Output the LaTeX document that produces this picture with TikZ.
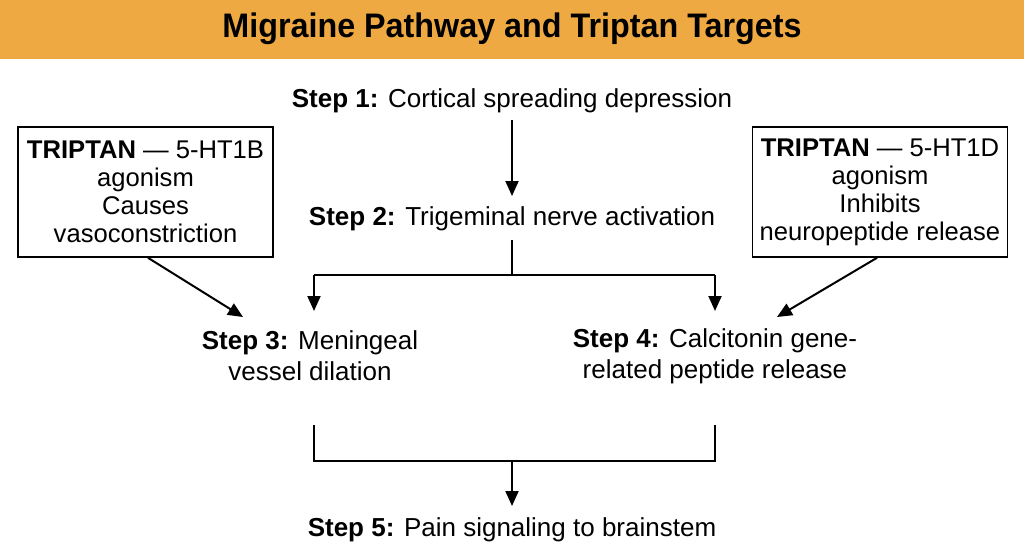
\documentclass[tikz,border=0pt]{standalone}
\usepackage{fontspec}
\setmainfont{Liberation Sans}
\usetikzlibrary{arrows.meta,positioning}
\definecolor{titlebg}{HTML}{EEA943}
\begin{document}
\begin{tikzpicture}[x=1pt,y=-1pt,
  every node/.style={inner sep=0pt, align=center},
  stepbox/.style={font=\fontsize{26}{31}\selectfont},
  tripbox/.style={draw, line width=1.6pt, minimum width=255pt, minimum height=130pt, font=\fontsize{25.6}{28}\selectfont},
  conn/.style={line width=2pt},
  arr/.style={conn, -{Triangle[length=15pt,width=13pt]}}]
\useasboundingbox (0,0) rectangle (1024,559);
\fill[titlebg] (0,0) rectangle (1024,59);
\node (title) at (512,29) {\scalebox{0.95}[1]{\fontsize{34}{38}\selectfont\bfseries Migraine Pathway and Triptan Targets}};
\node[stepbox] (s1) at (512,101) {\textbf{Step 1:} Cortical spreading depression};
\node[stepbox] (s2) at (512,219) {\textbf{Step 2:} Trigeminal nerve activation};
\node[stepbox] (s3) at (310,356) {\textbf{Step 3:} Meningeal\\vessel dilation};
\node[stepbox] (s4) at (715,356) {\textbf{Step 4:} Calcitonin gene-\\related peptide release};
\node[stepbox] (s5) at (512,530) {\textbf{Step 5:} Pain signaling to brainstem};
\node[tripbox] (b1) at (145.5,192) {\textbf{TRIPTAN} — 5-HT1B\\agonism\\Causes\\vasoconstriction};
\node[tripbox] (b2) at (880,192) {\textbf{TRIPTAN} — 5-HT1D\\agonism\\Inhibits\\neuropeptide release};
\coordinate (j2) at (512,275);
\coordinate (j3) at (314,275);
\coordinate (j4) at (715,275);
\coordinate (t3) at (314,311);
\coordinate (t4) at (715,311);
\coordinate (u3) at (314,425);
\coordinate (u4) at (715,425);
\coordinate (k3) at (314,461);
\coordinate (k4) at (715,461);
\coordinate (k5) at (512,461);
\coordinate (t5) at (512,506);
\coordinate (e1) at (512,120);
\coordinate (e2) at (512,196);
\coordinate (a1) at (243,317);
\coordinate (a2) at (777,317);
\draw[arr] (e1) -- (e2);
\draw[conn] (s2.south |- 0,240) -- (j2);
\draw[conn] (j3) -- (j4);
\draw[arr] (j3) -- (t3);
\draw[arr] (j4) -- (t4);
\draw[conn] (u3) -- (k3) -- (k4) -- (u4);
\draw[arr] (k5) -- (t5);
\draw[arr] (b1.south) ++(2.5,0) coordinate (b1s) (b1s) -- (a1);
\draw[arr] (b2.south) ++(-3,0) coordinate (b2s) (b2s) -- (a2);
\end{tikzpicture}
\end{document}
